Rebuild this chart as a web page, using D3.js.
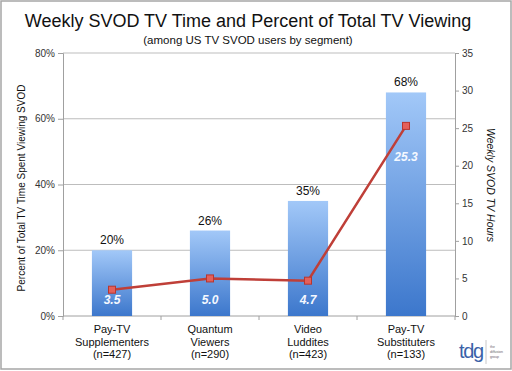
<!DOCTYPE html>
<html>
<head>
<meta charset="utf-8">
<script src="https://cdnjs.cloudflare.com/ajax/libs/d3/7.8.5/d3.min.js"></script>
<style>
  body { margin: 0; background: #fff; }
  text { font-family: "Liberation Sans", Arial, sans-serif; }
</style>
</head>
<body>
<svg id="svg1" width="512" height="371"></svg>
<script>
var svg = d3.select('#svg1');

// data
var segments = ['Pay-TV|Supplementers|(n=427)', 'Quantum|Viewers|(n=290)', 'Video|Luddites|(n=423)', 'Pay-TV|Substituters|(n=133)'];
var pctTotal = [20, 26, 35, 68];
var weeklyHours = [3.5, 5.0, 4.7, 25.3];
var leftTicks = [0, 20, 40, 60, 80];
var rightTicks = [0, 5, 10, 15, 20, 25, 30, 35];

var padding = {t: 53, r: 57, b: 55, l: 63};
var plotRight = 512 - padding.r;
var plotBottom = 371 - padding.b;

var x = d3.scaleBand()
    .domain(d3.range(segments.length))
    .range([padding.l, plotRight])
    .paddingInner(0.59)
    .paddingOuter(0.295);

var xOuter = d3.scaleBand()
    .domain(d3.range(segments.length))
    .range([padding.l, plotRight]);

var yL = d3.scaleLinear().domain([0, 80]).range([plotBottom, padding.t]);
var yR = d3.scaleLinear().domain([0, 35]).range([plotBottom, padding.t]);

// frame
svg.append('rect')
    .attr('x', 1).attr('y', 1)
    .attr('width', 510).attr('height', 368)
    .attr('fill', '#fff')
    .attr('stroke', '#a6a6a6')
    .attr('stroke-width', 1.5);

// gradient for bars
var defs = svg.append('defs');
var grad = defs.append('linearGradient')
    .attr('id', 'barGrad')
    .attr('x1', 0).attr('y1', 0).attr('x2', 0).attr('y2', 1);
grad.append('stop').attr('offset', '0%').attr('stop-color', '#a2c8f8');
grad.append('stop').attr('offset', '100%').attr('stop-color', '#3c77cc');

// titles
svg.append('text')
    .attr('x', 248).attr('y', 27)
    .attr('text-anchor', 'middle')
    .style('font-size', '18px')
    .attr('fill', '#111')
    .text('Weekly SVOD TV Time and Percent of Total TV Viewing');

svg.append('text')
    .attr('x', 248).attr('y', 44)
    .attr('text-anchor', 'middle')
    .style('font-size', '11.5px')
    .attr('fill', '#111')
    .text('(among US TV SVOD users by segment)');

// gridlines
svg.append('g')
    .selectAll('line')
    .data(leftTicks.slice(1))
    .enter()
    .append('line')
      .attr('x1', padding.l).attr('x2', plotRight)
      .attr('y1', function(d) { return yL(d); })
      .attr('y2', function(d) { return yL(d); })
      .attr('stroke', '#bdbdbd')
      .attr('stroke-width', 1);

// left axis
var leftAxis = svg.append('g')
    .attr('transform', 'translate(' + padding.l + ',0)')
    .call(d3.axisLeft(yL).tickValues(leftTicks).tickSize(5).tickFormat(function(d) { return d + '%'; }));
leftAxis.select('.domain').attr('stroke', '#a0a0a0');
leftAxis.selectAll('.tick line').attr('stroke', '#a0a0a0');
leftAxis.selectAll('text').style('font-size', '10px').attr('fill', '#333')
    .attr('font-family', '"Liberation Sans", Arial, sans-serif');

// right axis
var rightAxis = svg.append('g')
    .attr('transform', 'translate(' + plotRight + ',0)')
    .call(d3.axisRight(yR).tickValues(rightTicks).tickSize(4));
rightAxis.select('.domain').attr('stroke', '#a0a0a0');
rightAxis.selectAll('.tick line').attr('stroke', '#a0a0a0');
rightAxis.selectAll('text').style('font-size', '10px').attr('fill', '#333')
    .attr('font-family', '"Liberation Sans", Arial, sans-serif');

// bottom axis line + category separators
svg.append('line')
    .attr('x1', padding.l).attr('x2', plotRight)
    .attr('y1', plotBottom).attr('y2', plotBottom)
    .attr('stroke', '#a0a0a0');

svg.append('g')
    .selectAll('line')
    .data(d3.range(segments.length + 1))
    .enter()
    .append('line')
      .attr('x1', function(d) { return padding.l + d * xOuter.step(); })
      .attr('x2', function(d) { return padding.l + d * xOuter.step(); })
      .attr('y1', plotBottom).attr('y2', plotBottom + 4)
      .attr('stroke', '#a0a0a0');

// axis titles
svg.append('text')
    .attr('transform', 'translate(' + [25, 188] + ') rotate(-90)')
    .attr('text-anchor', 'middle')
    .style('font-size', '10px')
    .attr('fill', '#111')
    .text('Percent of Total TV Time Spent Viewing SVOD');

svg.append('text')
    .attr('transform', 'translate(' + [487, 185] + ') rotate(90)')
    .attr('text-anchor', 'middle')
    .style('font-size', '10.5px')
    .style('font-style', 'italic')
    .attr('fill', '#111')
    .text('Weekly SVOD TV Hours');

// bars
svg.selectAll('rect.bar')
    .data(pctTotal)
    .enter()
    .append('rect')
      .attr('class', 'bar')
      .attr('x', function(d, i) { return x(i); })
      .attr('y', function(d) { return yL(d); })
      .attr('width', x.bandwidth())
      .attr('height', function(d) { return plotBottom - yL(d); })
      .attr('fill', 'url(#barGrad)');

// bar labels
svg.selectAll('text.barlabel')
    .data(pctTotal)
    .enter()
    .append('text')
      .attr('class', 'barlabel')
      .attr('x', function(d, i) { return x(i) + x.bandwidth() / 2; })
      .attr('y', function(d) { return yL(d) - 6; })
      .attr('text-anchor', 'middle')
      .style('font-size', '12px')
      .attr('fill', '#111')
      .text(function(d) { return d + '%'; });

// category labels
var cats = svg.append('g');
segments.forEach(function(s, i) {
    var t = cats.append('text')
        .attr('text-anchor', 'middle')
        .style('font-size', '11px')
        .attr('fill', '#111');
    s.split('|').forEach(function(part, j) {
        t.append('tspan')
            .attr('x', xOuter(i) + xOuter.bandwidth() / 2)
            .attr('y', plotBottom + 17 + j * 12.5)
            .text(part);
    });
});

// line
var line = d3.line()
    .x(function(d, i) { return x(i) + x.bandwidth() / 2; })
    .y(function(d) { return yR(d); });

svg.append('path')
    .datum(weeklyHours)
    .attr('d', line)
    .attr('fill', 'none')
    .attr('stroke', '#bf3f38')
    .attr('stroke-width', 2.5);

svg.selectAll('rect.marker')
    .data(weeklyHours)
    .enter()
    .append('rect')
      .attr('class', 'marker')
      .attr('x', function(d, i) { return x(i) + x.bandwidth() / 2 - 3.5; })
      .attr('y', function(d) { return yR(d) - 3.5; })
      .attr('width', 7).attr('height', 7)
      .attr('fill', '#e4605a')
      .attr('stroke', '#b8352f')
      .attr('stroke-width', 1);

// line labels
svg.selectAll('text.linelabel')
    .data(weeklyHours)
    .enter()
    .append('text')
      .attr('class', 'linelabel')
      .attr('x', function(d, i) { return x(i) + x.bandwidth() / 2; })
      .attr('y', function(d) { return Math.min(yR(d) + 35, plotBottom - 12); })
      .attr('text-anchor', 'middle')
      .style('font-size', '12px')
      .style('font-weight', 'bold')
      .style('font-style', 'italic')
      .attr('fill', '#f4f8ff')
      .text(function(d) { return d.toFixed(1); });

// logo
svg.append('text')
    .attr('x', 459).attr('y', 358)
    .style('font-size', '20px')
    .attr('fill', '#3a62a8')
    .attr('textLength', 25)
    .text('tdg');
svg.append('line')
    .attr('x1', 486).attr('x2', 486)
    .attr('y1', 340).attr('y2', 364)
    .attr('stroke', '#c8c8c8');
['the', 'diffusion', 'group'].forEach(function(w, i) {
    svg.append('text')
        .attr('x', 490).attr('y', 348 + i * 5)
        .style('font-size', '3.5px')
        .attr('fill', '#666')
        .text(w);
});
</script>
</body>
</html>
